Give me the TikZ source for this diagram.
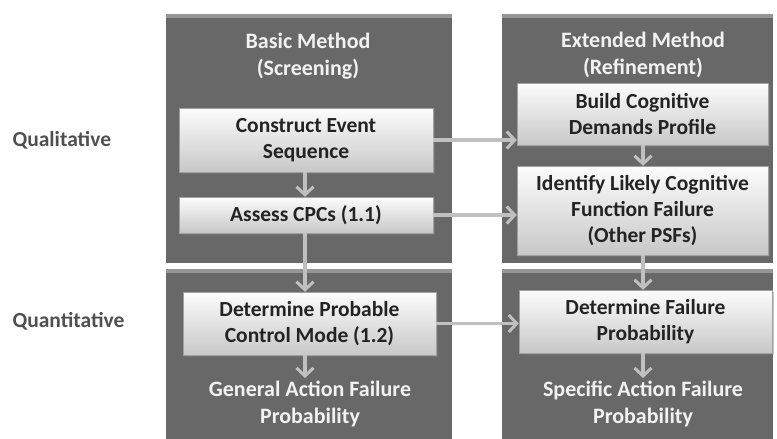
\documentclass[tikz,border=0pt]{standalone}
\definecolor{PanelGray}{RGB}{104,104,104}
\definecolor{PanelEdge}{RGB}{150,150,150}
\definecolor{BoxTop}{RGB}{252,252,252}
\definecolor{BoxBottom}{RGB}{200,200,200}
\definecolor{FlowGray}{RGB}{192,192,192}
\definecolor{LabelGray}{RGB}{80,80,80}
\definecolor{TextDark}{RGB}{35,35,35}
\definecolor{HeadWhite}{RGB}{242,242,242}
\usepackage{fontspec}
\setmainfont{Carlito}
\usepackage{tikz}
\usetikzlibrary{arrows.meta, positioning, calc, shadows}

\begin{document}
\begin{tikzpicture}[x=1pt, y=-1pt,
	panel/.style={rectangle, inner sep=0pt, fill=PanelGray,
		path picture={\fill[PanelEdge] (path picture bounding box.north west)
			rectangle ([yshift=-4pt]path picture bounding box.north east);}},
	stepbox/.style={rectangle, inner sep=1pt, top color=BoxTop, bottom color=BoxBottom,
		draw=BoxBottom!80!black, line width=0.4pt, align=center, text=TextDark,
		font=\fontsize{21.5}{26}\selectfont\bfseries,
		drop shadow={shadow xshift=2pt, shadow yshift=-2pt, opacity=0.45}},
	head/.style={align=center, text=HeadWhite, inner sep=1pt,
		font=\fontsize{22}{26.5}\selectfont\bfseries},
	side/.style={anchor=west, text=LabelGray, font=\fontsize{21.5}{24}\selectfont\bfseries},
	flow/.style={draw=FlowGray, line width=3.5pt,
		-{Straight Barb[length=8pt, width=17pt, line width=3pt]}}]
	\useasboundingbox (0,0) rectangle (777,439);

	% panels
	\node[panel, minimum width=286pt, minimum height=249pt] (basicq) at (309,138.5) {};
	\node[panel, minimum width=286pt, minimum height=172pt] (basicn) at (309,355) {};
	\node[panel, minimum width=271pt, minimum height=249pt] (extq) at (637.5,138.5) {};
	\node[panel, minimum width=271pt, minimum height=172pt] (extn) at (637.5,355) {};

	\node[head] (basichead) at (308,56) {Basic Method\\(Screening)};
	\node[head] (exthead) at (643,55) {Extended Method\\(Refinement)};

	\node[side] (quali) at (9,140) {Qualitative};
	\node[side] (quanti) at (9,321) {Quantitative};

	% steps
	\node[stepbox, minimum width=254pt, minimum height=64pt] (cons) at (306,140)
		{Construct Event\\Sequence};
	\node[stepbox, minimum width=254pt, minimum height=36pt] (assess) at (306,215)
		{Assess CPCs (1.1)};
	\node[stepbox, minimum width=253pt, minimum height=63pt] (mode) at (309.5,323.5)
		{Determine Probable\\Control Mode (1.2)};
	\node[stepbox, minimum width=251pt, minimum height=62pt] (build) at (642.5,114)
		{Build Cognitive\\Demands Profile};
	\node[stepbox, minimum width=251pt, minimum height=89pt] (ident) at (642.5,210.5)
		{Identify Likely Cognitive\\Function Failure\\(Other PSFs)};
	\node[stepbox, minimum width=253pt, minimum height=63pt] (failp) at (645.5,321.5)
		{Determine Failure\\Probability};

	\node[head, anchor=north] (general) at (310,380) {General Action Failure\\Probability};
	\node[head, anchor=north] (specific) at (643,380) {Specific Action Failure\\Probability};

	% arrows
	\draw[flow] (cons.south -| 305,0) -- (assess.north -| 305,0);
	\draw[flow] (assess.south -| 305,0) -- (mode.north -| 305,0);
	\draw[flow] (mode.south -| 305,0) -- ([yshift=2pt]general.north -| 305,0);
	\draw[flow] (build.south -| 643,0) -- (ident.north -| 643,0);
	\draw[flow] (ident.south -| 643,0) -- (failp.north -| 643,0);
	\draw[flow] (failp.south -| 643,0) -- ([yshift=2pt]specific.north -| 643,0);
	\draw[flow] (cons.east) -- (cons.east -| build.west);
	\draw[flow] (assess.east) -- (assess.east -| ident.west);
	\draw[flow] (mode.east) -- (mode.east -| failp.west);
\end{tikzpicture}
\end{document}
